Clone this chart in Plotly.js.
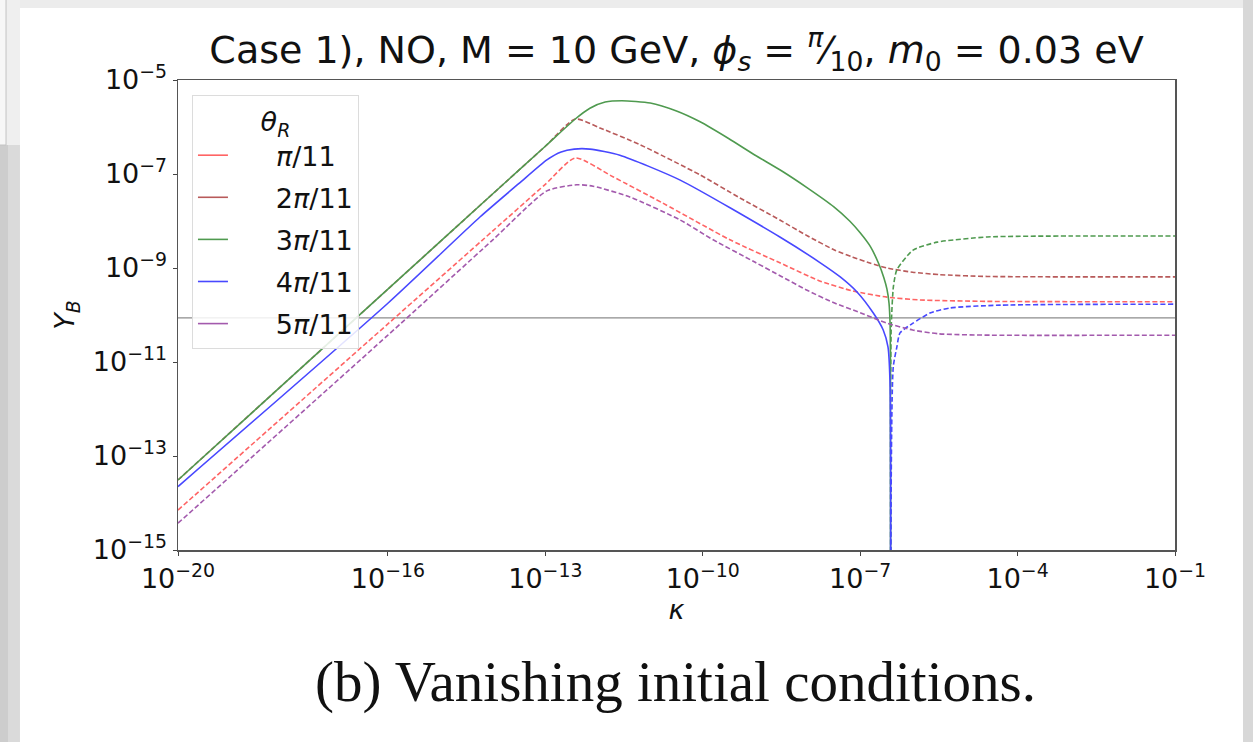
<!DOCTYPE html>
<html><head><meta charset="utf-8">
<script src="https://cdn.plot.ly/plotly-3.0.1.min.js"></script>
<style>html,body{margin:0;padding:0;background:#fff}</style>
</head><body><div id="chart" style="width:1253px;height:742px"></div>
<script>
// ---- data ----
const thetaLabels = ['<i>π</i>/11', '2<i>π</i>/11', '3<i>π</i>/11', '4<i>π</i>/11', '5<i>π</i>/11'];
const colors = ['#ff6464', '#b85a5a', '#4f9a4f', '#4848ff', '#a35aad'];

// π/11 (dashed)
const k1 = [1e-20, 1e-16, 1e-14, 1e-13, 3.72e-13, 1.95e-12, 1.74e-11, 3.31e-10, 2.95e-9, 1.74e-8, 7.24e-8, 3.24e-7, 1.38e-6, 2.63e-5, 1e-1];
const y1 = [7.08e-15, 6.46e-11, 6.17e-9, 6.03e-8, 2.19e-7, 8.71e-8, 2.40e-8, 3.98e-9, 1.29e-9, 5.25e-10, 3.24e-10, 2.40e-10, 2.09e-10, 1.95e-10, 1.91e-10];

// 2π/11 (dashed)
const k2 = [1e-20, 1e-16, 1e-14, 1e-13, 3.72e-13, 1.10e-12, 6.46e-12, 8.91e-11, 5.13e-10, 2.95e-9, 1e-8, 3.16e-8, 7.24e-8, 1.58e-7, 3.24e-7, 1e-6, 3.16e-6, 2.63e-5, 1e-1];
const y2 = [3.09e-14, 3.55e-10, 3.8e-8, 3.89e-7, 1.48e-6, 9.55e-7, 4.17e-7, 9.55e-8, 3.09e-8, 1.05e-8, 4.79e-9, 2.45e-9, 1.70e-9, 1.26e-9, 1.0e-9, 8.13e-10, 7.24e-10, 6.61e-10, 6.46e-10];

// 3π/11 solid (before sign change) and dashed (after)
const k3a = [1e-20, 1e-16, 1e-14, 1e-13, 3.72e-13, 7.08e-13, 1.38e-12, 2.88e-12, 1e-11, 3.16e-11, 8.91e-11, 3.16e-10, 1e-9, 3.16e-9, 1e-8, 3.16e-8, 6.31e-8, 1e-7, 1.58e-7, 2.24e-7, 2.82e-7, 3.24e-7, 3.55e-7, 3.72e-7, 3.78e-7, 3.80e-7];
const y3a = [3.09e-14, 3.55e-10, 3.8e-8, 3.89e-7, 1.48e-6, 2.51e-6, 3.39e-6, 3.63e-6, 3.24e-6, 2.19e-6, 1.29e-6, 5.62e-7, 2.51e-7, 1.17e-7, 5.01e-8, 2.0e-8, 1.0e-8, 5.62e-9, 2.82e-9, 1.26e-9, 6.31e-10, 3.55e-10, 1.78e-10, 6.3e-11, 8e-12, 1e-16];
const k3b = [3.82e-7, 3.9e-7, 4.3e-7, 5.01e-7, 1.02e-6, 2.95e-6, 2.63e-5, 1e-3, 1e-1];
const y3b = [1e-16, 5e-11, 4e-10, 9.12e-10, 2.40e-9, 3.55e-9, 4.57e-9, 4.79e-9, 4.79e-9];

// 4π/11 solid (before sign change) and dashed (after)
const k4a = [1e-20, 1e-16, 5.75e-15, 3.16e-14, 1.07e-13, 2.0e-13, 3.55e-13, 7.08e-13, 2.63e-12, 3.72e-11, 2.95e-9, 1.74e-8, 4.17e-8, 8.71e-8, 1.78e-7, 2.75e-7, 3.39e-7, 3.7e-7, 3.8e-7];
const y4a = [2.24e-14, 1.78e-10, 1.23e-8, 6.31e-8, 2.0e-7, 2.95e-7, 3.39e-7, 3.39e-7, 2.51e-7, 7.41e-8, 4.57e-9, 1.29e-9, 6.46e-10, 3.09e-10, 1.10e-10, 4.79e-11, 2.09e-11, 4e-12, 1e-16];
const k4b = [3.82e-7, 4.27e-7, 5.01e-7, 5.75e-7, 1e-6, 2.14e-6, 5.13e-6, 4.68e-5, 1e-1];
const y4b = [1e-16, 7.76e-12, 2.09e-11, 4.17e-11, 6.61e-11, 1.10e-10, 1.41e-10, 1.62e-10, 1.70e-10];

// 5π/11 (dashed)
const k5 = [1e-20, 1e-16, 1e-14, 1.07e-13, 3.98e-13, 8.13e-13, 4.07e-12, 3.72e-11, 1.58e-10, 1e-9, 3.16e-9, 1e-8, 3.16e-8, 1e-7, 3.16e-7, 1e-6, 3.16e-6, 3.16e-5, 1e-1];
const y5 = [3.72e-15, 3.72e-11, 3.98e-9, 4.37e-8, 5.89e-8, 5.50e-8, 3.24e-8, 1.05e-8, 3.98e-9, 1.32e-9, 6.61e-10, 3.31e-10, 1.82e-10, 1.12e-10, 6.76e-11, 4.79e-11, 3.98e-11, 3.72e-11, 3.72e-11];

// observed value line
const kObs = [1e-20, 1e-1];
const yObs = [8.7e-11, 8.7e-11];

const xTickVals = [1e-20, 1e-16, 1e-13, 1e-10, 1e-7, 1e-4, 1e-1];
const xTickText = ['10<sup>−20</sup>', '10<sup>−16</sup>', '10<sup>−13</sup>', '10<sup>−10</sup>', '10<sup>−7</sup>', '10<sup>−4</sup>', '10<sup>−1</sup>'];
const yTickVals = [1e-15, 1e-13, 1e-11, 1e-9, 1e-7, 1e-5];
const yTickText = ['10<sup>−15</sup>', '10<sup>−13</sup>', '10<sup>−11</sup>', '10<sup>−9</sup>', '10<sup>−7</sup>', '10<sup>−5</sup>'];

// ---- traces ----
const DASH = '5px,2.5px';
function line(x, y, c, dash, grp) {
  return {x: x, y: y, type: 'scatter', mode: 'lines', showlegend: false, legendgroup: grp,
          line: {color: c, width: 1.6, dash: dash, shape: 'spline', smoothing: 0.6}, hoverinfo: 'skip'};
}
const traces = [
  {x: kObs, y: yObs, type: 'scatter', mode: 'lines', showlegend: false, line: {color: '#8c8c8c', width: 1.2}, hoverinfo: 'skip'},
  line(k1, y1, colors[0], DASH, 'g1'),
  line(k2, y2, colors[1], DASH, 'g2'),
  line(k3a, y3a, colors[2], 'solid', 'g3'),
  line(k3b, y3b, colors[2], DASH, 'g3'),
  line(k4a, y4a, colors[3], 'solid', 'g4'),
  line(k4b, y4b, colors[3], DASH, 'g4'),
  line(k5, y5, colors[4], DASH, 'g5')
];
thetaLabels.forEach((lab, i) => {
  traces.push({x: [null], y: [null], type: 'scatter', mode: 'lines', name: '\u00a0\u00a0\u00a0\u00a0\u00a0' + lab, legendgroup: 'g' + (i + 1),
               showlegend: true, line: {color: colors[i], width: 1.6}});
});

const F = 'DejaVu Sans, sans-serif';
const layout = {
  width: 1253, height: 742,
  margin: {l: 178, r: 78, t: 80, b: 192},
  paper_bgcolor: '#ffffff', plot_bgcolor: '#ffffff',
  font: {family: F, color: '#111', size: 27},
  title: {text: 'Case 1), NO, M = 10 GeV, <i>ϕ</i><sub><i>s</i></sub> = <sup><i>π</i></sup>⁄<sub>10</sub>, <i>m</i><sub>0</sub> = 0.03 eV',
          font: {family: F, size: 38, color: '#111'}, x: 0.5, xanchor: 'center', xref: 'paper', y: 0.933, yanchor: 'middle'},
  xaxis: {type: 'log', range: [-20, -1], tickvals: xTickVals, ticktext: xTickText, ticks: 'outside', ticklen: 4, tickcolor: '#444',
          showline: true, linecolor: '#555', linewidth: 1.5, mirror: true, showgrid: false, zeroline: false,
          tickfont: {family: F, size: 27, color: '#111'},
          title: {text: '<i>κ</i>', font: {family: F, size: 27, color: '#111'}, standoff: 0}},
  yaxis: {type: 'log', range: [-15, -5], tickvals: yTickVals, ticktext: yTickText, ticks: 'outside', ticklen: 4, tickcolor: '#444',
          showline: true, linecolor: '#555', linewidth: 1.5, mirror: true, showgrid: false, zeroline: false,
          tickfont: {family: F, size: 27, color: '#111'},
          title: {text: '<i>Y</i><sub><i>B</i></sub>', font: {family: F, size: 27, color: '#111'}, standoff: 10}},
  legend: {x: 0.014, y: 0.968, xanchor: 'left', yanchor: 'top', bgcolor: 'rgba(255,255,255,0.85)',
           bordercolor: '#dcdcdc', borderwidth: 1, font: {family: F, size: 27, color: '#111'},
           title: {text: '<i>θ</i><sub><i>R</i></sub>', side: 'top center', font: {family: F, size: 27}},
           tracegroupgap: 4},
  shapes: [
    {type: 'rect', xref: 'paper', yref: 'paper', x0: -0.3, x1: -0.1585, y0: -1, y1: 0.8617, fillcolor: '#dadada', line: {width: 0}, layer: 'below'},
    {type: 'rect', xref: 'paper', yref: 'paper', x0: -0.3, x1: -0.1705, y0: -1, y1: 0.8617, fillcolor: '#cdcdcd', line: {width: 0}, layer: 'below'},
    {type: 'rect', xref: 'paper', yref: 'paper', x0: -0.3, x1: -0.1585, y0: 0.8617, y1: 1.3, fillcolor: '#efefef', line: {width: 0}, layer: 'below'},
    {type: 'rect', xref: 'paper', yref: 'paper', x0: -0.3, x1: -0.1725, y0: 0.8617, y1: 1.3, fillcolor: '#f7f7f7', line: {color: '#c4c4c4', width: 1}, layer: 'below'},
    {type: 'rect', xref: 'paper', yref: 'paper', x0: -0.1585, x1: 1.2, y0: 1.1532, y1: 1.3, fillcolor: '#ececec', line: {width: 0}, layer: 'below'},
    {type: 'rect', xref: 'paper', yref: 'paper', x0: 1.0682, x1: 1.2, y0: -1, y1: 1.3, fillcolor: '#d8d8d8', line: {width: 0}, layer: 'below'}
  ],
  annotations: [
    {text: '(b) Vanishing initial conditions.', xref: 'paper', yref: 'paper', x: 0.499, y: -0.281, xanchor: 'center', yanchor: 'middle',
     showarrow: false, font: {family: 'Liberation Serif, DejaVu Serif, serif', size: 57, color: '#111'}}
  ]
};
Plotly.newPlot('chart', traces, layout, {staticPlot: true, displayModeBar: false});
</script></body></html>
